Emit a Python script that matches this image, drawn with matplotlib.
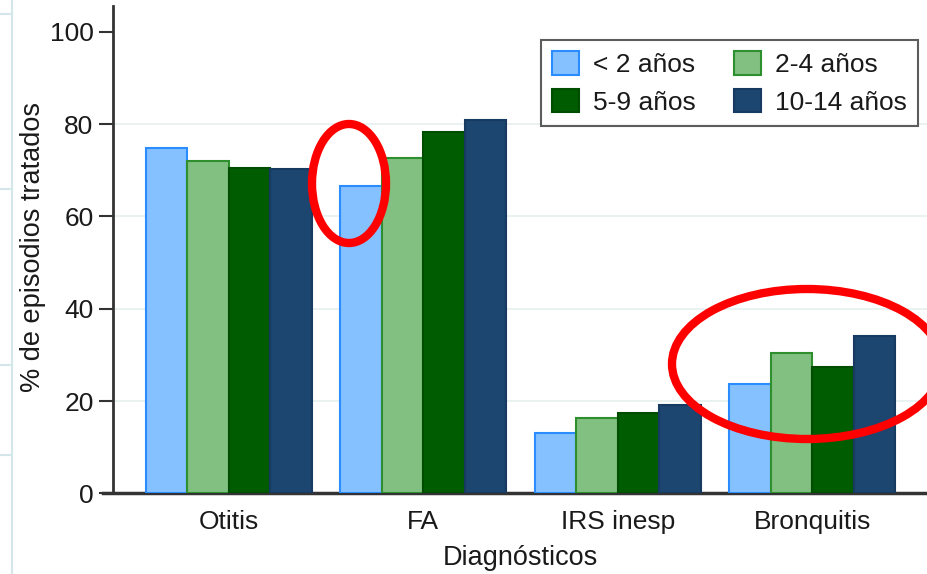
import matplotlib
matplotlib.use("Agg")
import matplotlib.pyplot as plt
from matplotlib.patches import Ellipse
from matplotlib.lines import Line2D
import numpy as np

categories = ["Otitis", "FA", "IRS inesp", "Bronquitis"]
series_labels = ["< 2 años", "2-4 años", "5-9 años", "10-14 años"]
vals_lt2 = [74.8, 66.6, 13.0, 23.6]
vals_2_4 = [72.0, 72.6, 16.3, 30.3]
vals_5_9 = [70.6, 78.2, 17.3, 27.4]
vals_10_14 = [70.2, 80.9, 19.1, 34.0]
yticks = [0, 20, 40, 60, 80, 100]

series = [vals_lt2, vals_2_4, vals_5_9, vals_10_14]
fills = ["#85c1ff", "#82c082", "#005c00", "#1c4570"]
edges = ["#2a8cff", "#2e8f2e", "#004d00", "#163a60"]

plt.rcParams['font.family'] = ['Liberation Sans', 'DejaVu Sans']
txt = "#1a1a1a"

W, H = 927, 574
fig = plt.figure(figsize=(W/100, H/100), dpi=100)
ax = fig.add_axes([113/W, (H-493.3)/H, (W-113)/W, (493.3-6)/H])

x = np.arange(len(categories))
bw = 0.213
bars = []
for i, (vals, fc, ec) in enumerate(zip(series, fills, edges)):
    b = ax.bar(x + (i-1.5)*bw, vals, width=bw, color=fc, edgecolor=ec, linewidth=1.5,
               label=series_labels[i], zorder=3)
    bars.append(b)

ax.set_xlim(-0.595, 3.59)
ax.set_ylim(0, 105.6)
ax.set_yticks(yticks)
ax.set_yticklabels([str(t) for t in yticks])
ax.set_xticks(x)
ax.set_xticklabels(categories)
ax.tick_params(axis='y', length=10, width=1.5, color="#333333", labelsize=19, pad=4, labelcolor=txt)
ax.tick_params(axis='x', length=0, labelsize=19, pad=12, labelcolor=txt)
for yv in yticks[1:-1]:
    ax.axhline(yv, color="#e6efef", linewidth=1.2, zorder=1)
for s in ["top", "right"]:
    ax.spines[s].set_visible(False)
ax.spines["left"].set_linewidth(2)
ax.spines["left"].set_color("#333333")
ax.spines["bottom"].set_linewidth(2.5)
ax.spines["bottom"].set_color("#333333")
ax.spines["bottom"].set_bounds(-0.645, 3.59)

ax.set_ylabel("% de episodios tratados", fontsize=19.5, color=txt)
ax.yaxis.set_label_coords((46-113)/814, (493.3-247)/487.3)
ax.set_xlabel("Diagnósticos", fontsize=19.5, color=txt, labelpad=8)

order = [0, 2, 1, 3]
leg = ax.legend([bars[i] for i in order], [series_labels[i] for i in order],
                ncol=2, loc="upper right",
                bbox_to_anchor=((918-113)/814, (493.3-40)/487.3), borderaxespad=0,
                fontsize=19, frameon=True, fancybox=False, edgecolor="#333333",
                handlelength=1.0, handleheight=1.0, handletextpad=0.55, columnspacing=1.45,
                labelspacing=0.45, borderpad=0.42, labelcolor=txt)
leg.get_frame().set_linewidth(1.5)

# screenshot border artefacts at left
def px_line(x0, y0, x1, y1, **kw):
    fig.add_artist(Line2D([x0/W, x1/W], [1-y0/H, 1-y1/H], transform=fig.transFigure, **kw))
px_line(12, 0, 12, H, color="#d3e6ea", linewidth=1.5)
for yy in [14, 189, 365, 455]:
    px_line(0, yy, 12, yy, color="#d3e6ea", linewidth=1.5)

# red annotation ellipses (pixel positions)
for cx, cy, ew, eh in [(349, 183.5, 74, 119), (807, 364, 270, 150)]:
    e = Ellipse((cx/100, (H-cy)/100), ew/100, eh/100, transform=fig.dpi_scale_trans,
                fill=False, edgecolor="#ff0000", linewidth=6, zorder=10)
    fig.add_artist(e)

fig.savefig("out.png", dpi=100)
